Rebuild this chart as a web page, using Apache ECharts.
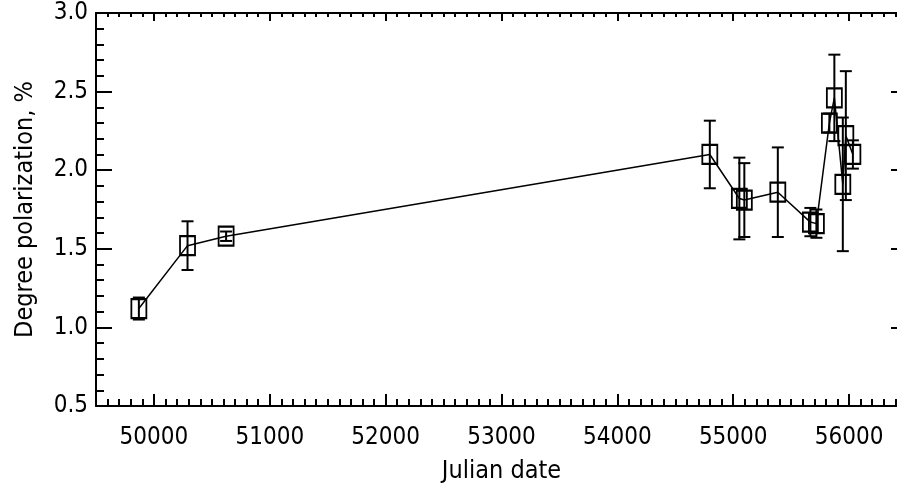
<!DOCTYPE html>
<html><head><meta charset="utf-8">
<script src="https://cdn.jsdelivr.net/npm/echarts@6/dist/echarts.min.js"></script>
<style>html,body{margin:0;padding:0;background:#fff;overflow:hidden;}#c{width:920px;height:488px;}</style>
</head><body><div id="c"></div>
<script>
// Data
const julianDates   = [49870, 50290, 50623, 54798, 55053, 55096, 55385, 55666, 55718, 55830, 55873, 55946, 55972, 56033];
const polarization  = [1.12, 1.52, 1.58, 2.10, 1.82, 1.81, 1.86, 1.67, 1.66, 2.30, 2.46, 1.91, 2.22, 2.10];
const polErrors     = [0.07, 0.155, 0.03, 0.215, 0.26, 0.235, 0.285, 0.09, 0.09, 0.06, 0.275, 0.425, 0.41, 0.09];
const xTickValues   = [50000, 51000, 52000, 53000, 54000, 55000, 56000];
const xRange        = [49500, 56500];
const yRange        = [0.5, 3.0];
const xTitle = 'Julian date';
const yTitle = 'Degree polarization, %';

const FONT = '"DejaVu Sans Condensed", "Liberation Sans Narrow", "DejaVu Sans", sans-serif';
const FS = 24;
const FSN = 25;
const black = '#000';

const points = julianDates.map((d, i) => [d, polarization[i]]);
const errData = julianDates.map((d, i) => [d, polarization[i], polErrors[i]]);

const chart = echarts.init(document.getElementById('c'), null, {renderer: 'canvas'});

const baseX = {
  type: 'value', min: xRange[0], max: xRange[1], gridIndex: 0,
  splitLine: {show: false}, axisLabel: {show: false}
};

chart.setOption({
  animation: false,
  backgroundColor: '#fff',
  grid: {left: 96, top: 13, width: 811, height: 393, containLabel: false, outerBoundsMode: 'none'},
  xAxis: [
    Object.assign({}, baseX, {
      position: 'bottom',
      axisLine: {show: true, onZero: false, lineStyle: {color: black, width: 2}},
      axisTick: {show: true, inside: true, length: 12, customValues: xTickValues, lineStyle: {color: black, width: 2}},
      axisLabel: {show: true, customValues: xTickValues, color: black, fontFamily: FONT, fontSize: FS, margin: 20,
                  formatter: v => String(v)},
      name: xTitle, nameLocation: 'middle', nameGap: 53,
      nameTextStyle: {color: black, fontFamily: FONT, fontSize: FSN}
    }),
    Object.assign({}, baseX, {
      position: 'bottom', interval: 100,
      axisLine: {show: false, onZero: false},
      axisTick: {show: true, inside: true, length: 7, lineStyle: {color: black, width: 2}}
    }),
    Object.assign({}, baseX, {
      position: 'top',
      axisLine: {show: true, onZero: false, lineStyle: {color: black, width: 2}},
      axisTick: {show: true, inside: true, length: 8, customValues: xTickValues, lineStyle: {color: black, width: 2}}
    }),
    Object.assign({}, baseX, {
      position: 'top', interval: 100,
      axisLine: {show: false, onZero: false},
      axisTick: {show: true, inside: true, length: 4, lineStyle: {color: black, width: 2}}
    })
  ],
  yAxis: [
    {
      type: 'value', min: yRange[0], max: yRange[1], interval: 0.5, position: 'left',
      splitLine: {show: false},
      axisLine: {show: true, onZero: false, lineStyle: {color: black, width: 2}},
      axisTick: {show: true, inside: true, length: 16, lineStyle: {color: black, width: 2}},
      minorTick: {show: true, splitNumber: 5, length: 8, lineStyle: {color: black, width: 2}},
      axisLabel: {color: black, fontFamily: FONT, fontSize: FS, margin: 8, formatter: v => v.toFixed(1)},
      name: yTitle, nameLocation: 'middle', nameGap: 58, nameRotate: 90,
      nameTextStyle: {color: black, fontFamily: FONT, fontSize: FSN}
    },
    {
      type: 'value', min: yRange[0], max: yRange[1], interval: 0.5, position: 'right',
      splitLine: {show: false},
      axisLine: {show: true, onZero: false, lineStyle: {color: black, width: 2}},
      axisTick: {show: true, inside: true, length: 16, lineStyle: {color: black, width: 2}},
      minorTick: {show: true, splitNumber: 5, length: 8, lineStyle: {color: black, width: 2}},
      axisLabel: {show: false}
    }
  ],
  series: [
    {
      type: 'custom', xAxisIndex: 0, yAxisIndex: 0, silent: true,
      data: errData,
      renderItem: function (params, api) {
        const x = api.value(0), y = api.value(1), e = api.value(2);
        const top = api.coord([x, y + e]);
        const bot = api.coord([x, y - e]);
        const hw = 6;
        const st = {stroke: black, lineWidth: 2};
        return {
          type: 'group',
          children: [
            {type: 'line', shape: {x1: top[0], y1: top[1], x2: bot[0], y2: bot[1]}, style: st},
            {type: 'line', shape: {x1: top[0] - hw, y1: top[1], x2: top[0] + hw, y2: top[1]}, style: st},
            {type: 'line', shape: {x1: bot[0] - hw, y1: bot[1], x2: bot[0] + hw, y2: bot[1]}, style: st}
          ]
        };
      }
    },
    {
      type: 'line', xAxisIndex: 0, yAxisIndex: 0, silent: true,
      data: points,
      symbol: 'rect', symbolSize: [15, 19],
      itemStyle: {color: 'rgba(0,0,0,0)', borderColor: black, borderWidth: 2},
      lineStyle: {color: black, width: 1.5},
      emphasis: {disabled: true}
    }
  ]
});
</script>
</body></html>
